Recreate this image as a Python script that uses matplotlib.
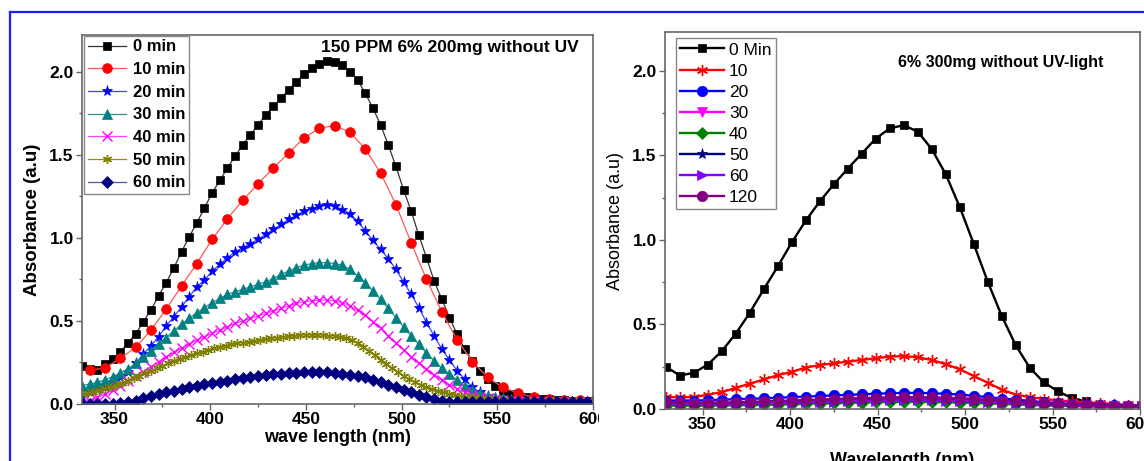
import numpy as np
import matplotlib
matplotlib.use("Agg")
import matplotlib.pyplot as plt
from matplotlib.lines import Line2D
from matplotlib.transforms import Bbox, TransformedBbox
from matplotlib.ticker import MultipleLocator

plt.rcParams['font.family'] = ['Liberation Sans', 'DejaVu Sans']

# ---------------- Left panel data ----------------
wl_4 = np.arange(333, 598, 4)   # 67 points
wl_8 = np.arange(337, 602, 8)   # 34 points
wl_3 = np.arange(333, 601, 3)   # 90 points

l_0min = [0.23, 0.21, 0.205, 0.24, 0.27, 0.31, 0.37, 0.42, 0.495, 0.565,
          0.65, 0.73, 0.82, 0.915, 1.005, 1.09, 1.18, 1.27, 1.345, 1.42,
          1.49, 1.56, 1.62, 1.68, 1.74, 1.79, 1.84, 1.89, 1.94, 1.985,
          2.02, 2.045, 2.065, 2.06, 2.04, 2.0, 1.95, 1.87, 1.78, 1.68,
          1.56, 1.43, 1.29, 1.16, 1.015, 0.88, 0.74, 0.63, 0.52, 0.42,
          0.33, 0.26, 0.2, 0.15, 0.11, 0.08, 0.06, 0.05, 0.04, 0.035,
          0.03, 0.03, 0.025, 0.025, 0.02, 0.02, 0.02]
l_10min = [0.205, 0.215, 0.275, 0.34, 0.445, 0.57, 0.71, 0.845, 0.99, 1.115,
           1.225, 1.325, 1.42, 1.51, 1.6, 1.66, 1.675, 1.635, 1.535, 1.39,
           1.2, 0.97, 0.75, 0.555, 0.385, 0.255, 0.16, 0.1, 0.065, 0.04,
           0.03, 0.026, 0.024, 0.022]
l_20min = [0.05, 0.07, 0.09, 0.105, 0.13, 0.16, 0.195, 0.245, 0.3, 0.35,
           0.405, 0.47, 0.525, 0.585, 0.645, 0.705, 0.745, 0.8, 0.84, 0.88,
           0.915, 0.94, 0.965, 0.99, 1.02, 1.05, 1.08, 1.11, 1.135, 1.16,
           1.175, 1.19, 1.195, 1.19, 1.17, 1.145, 1.1, 1.04, 0.985, 0.93,
           0.875, 0.81, 0.735, 0.66, 0.58, 0.49, 0.41, 0.33, 0.265, 0.2,
           0.15, 0.1, 0.07, 0.05, 0.035, 0.03, 0.025, 0.02, 0.02, 0.02,
           0.02, 0.02, 0.015, 0.015, 0.015, 0.015, 0.015]
l_30min = [0.11, 0.12, 0.13, 0.145, 0.165, 0.185, 0.21, 0.245, 0.285, 0.32,
           0.36, 0.4, 0.44, 0.48, 0.515, 0.55, 0.58, 0.61, 0.635, 0.66,
           0.675, 0.69, 0.705, 0.72, 0.735, 0.755, 0.78, 0.8, 0.82, 0.835,
           0.845, 0.85, 0.85, 0.845, 0.835, 0.81, 0.77, 0.73, 0.68, 0.63,
           0.575, 0.52, 0.465, 0.41, 0.36, 0.305, 0.26, 0.215, 0.18, 0.145,
           0.11, 0.085, 0.065, 0.05, 0.04, 0.035, 0.03, 0.025, 0.02, 0.02,
           0.02, 0.02, 0.02, 0.02, 0.02, 0.02, 0.02]
l_40min = [0.0, 0.02, 0.04, 0.06, 0.085, 0.11, 0.14, 0.17, 0.195, 0.225,
           0.255, 0.285, 0.31, 0.335, 0.36, 0.385, 0.405, 0.425, 0.445, 0.465,
           0.485, 0.5, 0.515, 0.53, 0.545, 0.56, 0.575, 0.59, 0.605, 0.615,
           0.62, 0.625, 0.625, 0.62, 0.61, 0.59, 0.565, 0.535, 0.495, 0.455,
           0.41, 0.37, 0.325, 0.285, 0.245, 0.21, 0.175, 0.145, 0.115, 0.09,
           0.07, 0.055, 0.045, 0.035, 0.03, 0.025, 0.02, 0.02, 0.02, 0.02,
           0.015, 0.015, 0.015, 0.015, 0.015, 0.015, 0.015]
l_50min = [0.06, 0.065, 0.075, 0.085, 0.095, 0.105, 0.115, 0.125, 0.14, 0.155,
           0.17, 0.185, 0.2, 0.215, 0.23, 0.245, 0.26, 0.27, 0.285, 0.295,
           0.305, 0.315, 0.325, 0.335, 0.345, 0.35, 0.36, 0.365, 0.37, 0.375,
           0.38, 0.385, 0.39, 0.395, 0.4, 0.405, 0.41, 0.41, 0.415, 0.415,
           0.415, 0.415, 0.415, 0.41, 0.41, 0.405, 0.395, 0.385, 0.365, 0.345,
           0.32, 0.295, 0.265, 0.24, 0.215, 0.19, 0.17, 0.15, 0.13, 0.115,
           0.1, 0.09, 0.08, 0.07, 0.06, 0.055, 0.05, 0.045, 0.04, 0.035,
           0.03, 0.03, 0.025, 0.025, 0.02, 0.02, 0.02, 0.02, 0.02, 0.02,
           0.02, 0.02, 0.02, 0.02, 0.02, 0.02, 0.02, 0.02, 0.02, 0.02]
l_60min = [0.0, 0.0, 0.0, 0.0, 0.0, 0.005, 0.01, 0.02, 0.035, 0.05,
           0.06, 0.07, 0.08, 0.09, 0.1, 0.11, 0.12, 0.125, 0.135, 0.14,
           0.15, 0.155, 0.165, 0.17, 0.175, 0.18, 0.18, 0.185, 0.185, 0.19,
           0.19, 0.19, 0.19, 0.185, 0.18, 0.175, 0.17, 0.16, 0.145, 0.13,
           0.115, 0.1, 0.085, 0.07, 0.055, 0.04, 0.03, 0.02, 0.015, 0.01,
           0.01, 0.01, 0.01, 0.01, 0.01, 0.01, 0.01, 0.01, 0.01, 0.01,
           0.01, 0.01, 0.01, 0.01, 0.01, 0.01, 0.01]

left_labels = ['0 min', '10 min', '20 min', '30 min', '40 min', '50 min', '60 min']

# ---------------- Right panel data ----------------
r_wl = np.arange(329, 602, 8)   # 35 points

r_0 = [0.25, 0.198, 0.214, 0.263, 0.343, 0.446, 0.57, 0.709, 0.844, 0.986,
       1.115, 1.228, 1.329, 1.422, 1.511, 1.6, 1.66, 1.679, 1.64, 1.537,
       1.388, 1.194, 0.976, 0.752, 0.55, 0.376, 0.244, 0.158, 0.105, 0.065,
       0.046, 0.026, 0.02, 0.016, 0.015]
r_10 = [0.07, 0.07, 0.07, 0.085, 0.1, 0.125, 0.15, 0.175, 0.2, 0.22,
        0.245, 0.26, 0.27, 0.28, 0.29, 0.3, 0.31, 0.313, 0.305, 0.29,
        0.265, 0.235, 0.195, 0.155, 0.115, 0.085, 0.07, 0.06, 0.05, 0.045,
        0.04, 0.035, 0.03, 0.025, 0.02]
r_20 = [0.05, 0.05, 0.05, 0.052, 0.055, 0.058, 0.06, 0.063, 0.066, 0.07,
        0.073, 0.077, 0.08, 0.083, 0.087, 0.09, 0.093, 0.095, 0.095, 0.093,
        0.09, 0.085, 0.078, 0.07, 0.062, 0.055, 0.048, 0.04, 0.035, 0.03,
        0.027, 0.025, 0.022, 0.02, 0.02]
r_30 = [0.03, 0.03, 0.03, 0.03, 0.03, 0.032, 0.034, 0.036, 0.038, 0.04,
        0.042, 0.044, 0.046, 0.048, 0.05, 0.052, 0.053, 0.054, 0.054, 0.053,
        0.052, 0.05, 0.047, 0.044, 0.04, 0.036, 0.032, 0.028, 0.025, 0.022,
        0.02, 0.018, 0.016, 0.015, 0.015]
r_40 = [0.02, 0.02, 0.02, 0.02, 0.021, 0.022, 0.023, 0.024, 0.026, 0.028,
        0.03, 0.032, 0.034, 0.036, 0.038, 0.04, 0.041, 0.042, 0.042, 0.041,
        0.04, 0.038, 0.036, 0.033, 0.03, 0.027, 0.024, 0.021, 0.019, 0.017,
        0.015, 0.014, 0.013, 0.012, 0.012]
r_50 = [0.035, 0.035, 0.034, 0.034, 0.034, 0.035, 0.037, 0.039, 0.041, 0.043,
        0.045, 0.047, 0.049, 0.051, 0.053, 0.055, 0.056, 0.057, 0.057, 0.056,
        0.055, 0.053, 0.05, 0.046, 0.042, 0.038, 0.034, 0.03, 0.027, 0.024,
        0.022, 0.02, 0.018, 0.017, 0.016]
r_60 = [0.03, 0.03, 0.029, 0.029, 0.029, 0.03, 0.032, 0.034, 0.036, 0.038,
        0.04, 0.042, 0.044, 0.046, 0.048, 0.05, 0.051, 0.052, 0.052, 0.051,
        0.05, 0.048, 0.045, 0.042, 0.038, 0.034, 0.03, 0.027, 0.024, 0.021,
        0.019, 0.017, 0.016, 0.015, 0.015]
r_120 = [0.04, 0.04, 0.038, 0.038, 0.038, 0.04, 0.042, 0.045, 0.048, 0.05,
         0.053, 0.056, 0.059, 0.062, 0.065, 0.067, 0.069, 0.07, 0.07, 0.069,
         0.067, 0.064, 0.06, 0.055, 0.05, 0.045, 0.04, 0.035, 0.03, 0.027,
         0.025, 0.022, 0.02, 0.018, 0.018]

right_labels = ['0 Min', '10', '20', '30', '40', '50', '60', '120']

x_ticks = [350, 400, 450, 500, 550, 600]
y_ticks = [0.0, 0.5, 1.0, 1.5, 2.0]

# ---------------- Figure ----------------
W, H = 1144, 461
fig = plt.figure(figsize=(W / 100, H / 100), dpi=100)
fig.patch.set_facecolor('white')

def fx(px):
    return px / W

def fy(py):
    return 1 - py / H

spine_col = '#666666'

def style_axes(ax, bold_ticks=True):
    for s in ax.spines.values():
        s.set_color(spine_col)
        s.set_linewidth(1.2)
    ax.xaxis.set_minor_locator(MultipleLocator(25))
    ax.yaxis.set_minor_locator(MultipleLocator(0.25))
    ax.tick_params(which='both', direction='out', top=False, right=False,
                   color=spine_col, width=1.0)
    ax.tick_params(which='major', length=4, labelsize=12.5, pad=2)
    ax.tick_params(which='minor', length=2.5)
    for lab in ax.get_xticklabels() + ax.get_yticklabels():
        lab.set_fontweight('bold' if bold_ticks else 'normal')

# ---- Left axes ----
ax1 = fig.add_axes([fx(82), fy(404), fx(593) - fx(82), fy(35) - fy(404)])
ax1.set_xlim(333, 600)
ax1.set_ylim(0, 2.22)
ax1.set_xticks(x_ticks)
ax1.set_yticks(y_ticks)
ax1.set_yticklabels(['0.0', '0.5', '1.0', '1.5', '2.0'])

left_series = [
    (wl_4, l_0min, 's', '#000000', '#333333', 6.0, 0.5),
    (wl_8, l_10min, 'o', '#ff0000', '#ff5555', 7.0, 0.5),
    (wl_4, l_20min, '*', '#0000ff', '#4040ff', 8.0, 0.5),
    (wl_4, l_30min, '^', '#008080', '#309090', 7.0, 0.5),
    (wl_4, l_40min, 'x', '#ff00ff', '#ff40ff', 7.0, 1.0),
    (wl_3, l_50min, (6, 2, 0), '#808000', '#909020', 6.5, 1.0),
    (wl_4, l_60min, 'D', '#000080', '#5555aa', 6.0, 0.5),
]
handles1 = []
for (xs, ys, mk, mc, lc, ms, mew), lab in zip(left_series, left_labels):
    h, = ax1.plot(xs, ys, marker=mk, color=lc, lw=0.9, ms=ms, mfc=mc, mec=mc,
                  mew=mew, label=lab)
    handles1.append(h)

style_axes(ax1)
ax1.set_xlabel('wave length (nm)', fontsize=13, fontweight='bold', labelpad=1)
ax1.set_ylabel('Absorbance (a.u)', fontsize=13.5, fontweight='bold', labelpad=6)
ax1.text(0.468, 0.966, '150 PPM 6% 200mg without UV', transform=ax1.transAxes,
         fontsize=12.5, fontweight='bold', ha='left', va='center')
leg1 = ax1.legend(handles=handles1, loc='upper left', bbox_to_anchor=(0.004, 0.998),
                  borderaxespad=0, prop=dict(weight='bold', size=12),
                  fancybox=False, edgecolor='#888888', framealpha=1,
                  handlelength=2.3, handletextpad=0.4, labelspacing=0.46,
                  borderpad=0.22, numpoints=1)
leg1.get_frame().set_linewidth(1.0)

# ---- Right axes ----
ax2 = fig.add_axes([fx(665), fy(409), fx(1140) - fx(665), fy(32) - fy(409)])
ax2.set_xlim(328.5, 600)
ax2.set_ylim(0, 2.23)
ax2.set_xticks(x_ticks)
ax2.set_yticks(y_ticks)
ax2.set_yticklabels(['0.0', '0.5', '1.0', '1.5', '2.0'])

right_series = [
    (r_0, 's', '#000000', 6.0),
    (r_10, (6, 2, 0), '#ff0000', 8),
    (r_20, 'o', '#0000ff', 7.5),
    (r_30, 'v', '#ff00ff', 7),
    (r_40, 'D', '#008000', 6),
    (r_50, '*', '#000080', 8),
    (r_60, '>', '#8000ff', 7),
    (r_120, 'o', '#800080', 7.5),
]
handles2 = []
for (ys, mk, c, ms), lab in zip(right_series, right_labels):
    mew = 1.0 if mk == (6, 2, 0) else 0.5
    h, = ax2.plot(r_wl, ys, marker=mk, color=c, lw=1.7, ms=ms, mfc=c, mec=c,
                  mew=mew, label=lab)
    handles2.append(h)

style_axes(ax2)
ax2.set_xlabel('Wavelength (nm)', fontsize=13, fontweight='bold', labelpad=14)
ax2.set_ylabel('Absorbance (a.u)', fontsize=13, labelpad=6)
ax2.text(0.49, 0.92, '6% 300mg without UV-light', transform=ax2.transAxes,
         fontsize=11.5, fontweight='bold', ha='left', va='center')
leg2 = ax2.legend(handles=handles2, loc='upper left', bbox_to_anchor=(0.023, 0.984),
                  borderaxespad=0, prop=dict(size=12.5),
                  fancybox=False, edgecolor='#888888', framealpha=1,
                  handlelength=2.5, handletextpad=0.3, labelspacing=0.34,
                  borderpad=0.25, numpoints=1)
leg2.get_frame().set_linewidth(1.0)

# Clip left panel tick labels at the panel boundary (reference is cut there)
fig.canvas.draw()
clip = TransformedBbox(Bbox([[0, 0], [fx(599), 1]]), fig.transFigure)
for t in ax1.xaxis.get_major_ticks():
    t.label1.set_clip_box(clip)
    t.label1.set_clip_on(True)

# Blue frame around the figure
frame_col = '#1a1aff'
fig.add_artist(Line2D([fx(9.5), fx(9.5)], [fy(12), 0], transform=fig.transFigure,
                      color=frame_col, lw=1.6))
fig.add_artist(Line2D([fx(9.5), 1], [fy(12), fy(12)], transform=fig.transFigure,
                      color=frame_col, lw=1.6))

fig.savefig('out.png', dpi=100, facecolor='white')
